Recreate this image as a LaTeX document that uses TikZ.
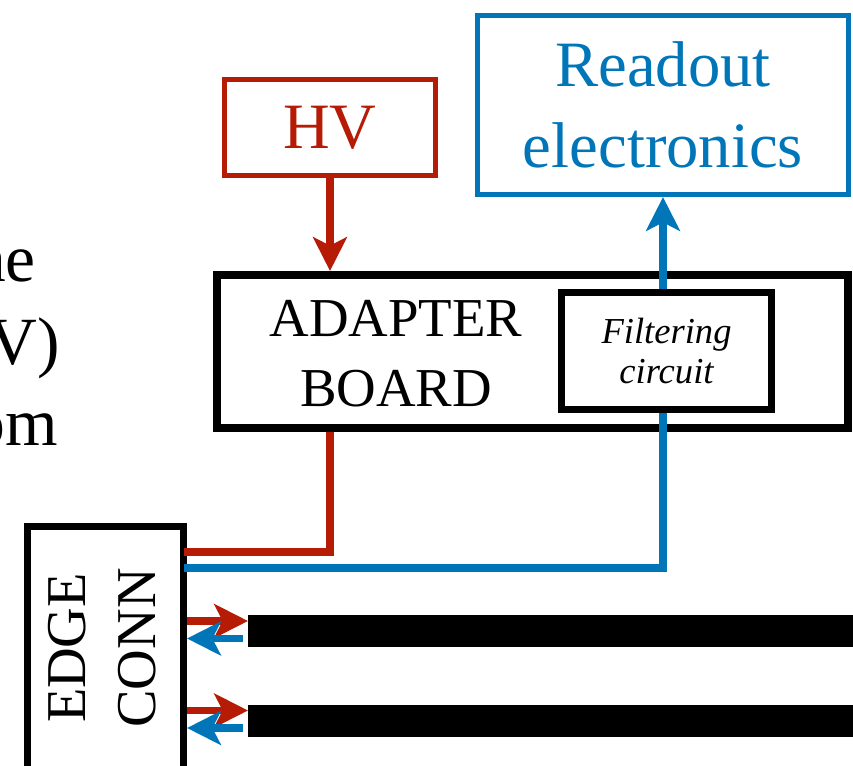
\documentclass[tikz,border=0pt]{standalone}
\usepackage{fontspec}
\setmainfont{Liberation Serif}
\usetikzlibrary{arrows.meta, positioning, calc}
\definecolor{hvred}{HTML}{B51B05}
\definecolor{roblue}{HTML}{0076B9}
\tikzset{
  px/.style={x=0.025cm, y=-0.025cm},
  >={Stealth[length=24pt, width=24pt, inset=6pt]},
  frag/.style={anchor=base east, inner sep=0pt, font=\fontsize{48}{58}\selectfont},
  hvbox/.style={rectangle, draw=hvred, line width=3.6pt, text=hvred, inner sep=0pt,
                font=\fontsize{46}{55}\selectfont},
  robox/.style={rectangle, draw=roblue, line width=3.6pt, text=roblue, inner sep=0pt,
                align=center, font=\fontsize{46}{57.6}\selectfont},
  board/.style={rectangle, draw=black, line width=5.7pt, inner sep=0pt},
  boardtxt/.style={align=center, inner sep=0pt, font=\fontsize{39}{49.8}\selectfont},
  conn/.style={rectangle, draw=black, line width=5pt, inner sep=0pt},
  conntxt/.style={align=center, inner sep=0pt, rotate=90, font=\fontsize{40}{50}\selectfont},
  filter/.style={rectangle, draw=black, line width=5pt, fill=white, inner sep=0pt,
                 align=center, font=\fontsize{26}{28.5}\selectfont\itshape},
  strip/.style={rectangle, fill=black, anchor=west, inner sep=0pt, outer sep=0pt,
                minimum width=16cm, minimum height=0.8cm},
  hvwire/.style={draw=hvred, line width=5pt},
  rowire/.style={draw=roblue, line width=5pt},
}

\begin{document}
\begin{tikzpicture}[px]
  \useasboundingbox (0,0) rectangle (853,766);
  \clip (0,0) rectangle (853,766);
  % caption cut off at the left border
  \node[frag] (fraga) at (36,282) {ne};
  \node[frag] (fragb) at (60,365) {V)};
  \node[frag] (fragc) at (58,445) {om};
  % boxes
  \node[hvbox, minimum width=5.275cm, minimum height=2.4cm] (hv) at (330,127.5) {HV};
  \node[robox, minimum width=9.275cm, minimum height=4.475cm] (readout) at (663,105) {Readout\\electronics};
  \node[board, minimum width=15.775cm, minimum height=3.825cm] (adapter) at (532.5,351.5) {};
  \node[boardtxt] (adaptertxt) at (396,354) {ADAPTER\\BOARD};
  \node[conn, minimum width=3.9cm, minimum height=6.1125cm] (edge) at (105.5,648.75) {};
  \node[conntxt] (edgetxt) at (102,648) {EDGE\\CONN};
  % strips
  \node[strip] (stripa) at (248,631) {};
  \node[strip] (stripb) at (248,720.5) {};
  \coordinate (hvport) at (184,552);
  \coordinate (roport) at (184,568);
  % wires
  \draw[hvwire, ->] (hv) -- (adapter.north -| hv);
  \draw[hvwire] (adapter.south -| hv) |- (hvport);
  \draw[rowire, ->] (roport) -| (readout.south);
  \foreach \s in {stripa, stripb} {
    \draw[hvwire, ->] ($(edge.east |- \s.west)+(0,-10)$) -- ($(\s.west)+(0,-10)$);
    \draw[rowire, ->] ($(\s.west)+(-5,7.5)$) -- ($(edge.east |- \s.west)+(0,7.5)$);
  }
  \node[filter, minimum width=5.25cm, minimum height=2.925cm] (filter) at (666.5,351) {Filtering\\circuit};
\end{tikzpicture}
\end{document}
